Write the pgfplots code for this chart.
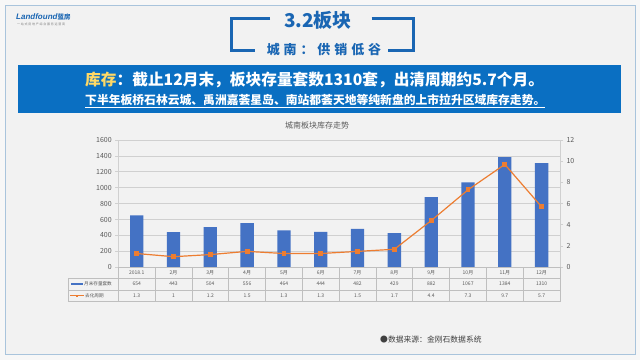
\documentclass[border=0pt]{standalone}
\usepackage{pgfplots}
\pgfplotsset{compat=1.18}
\usepackage{fontspec}
\setmainfont{Noto Sans CJK SC}
\newfontfamily\logofont{Liberation Sans}
\definecolor{bgc}{HTML}{F2F2F2}
\definecolor{outc}{HTML}{F7F7F7}
\definecolor{framec}{HTML}{A9C4DC}
\definecolor{titleblue}{HTML}{1A66B3}
\definecolor{bannerblue}{HTML}{0A6FC2}
\definecolor{hl}{HTML}{FFD966}
\definecolor{barblue}{HTML}{4472C4}
\definecolor{lineor}{HTML}{ED7D31}
\definecolor{labgray}{HTML}{595959}
\definecolor{gridc}{HTML}{D0D0D0}
\definecolor{tabc}{HTML}{BFBFBF}
\pgfplotsset{
  common/.style={
    at={(118.3pt,92.7pt)}, anchor=south west, scale only axis,
    width=441.7pt, height=127.3pt, xmin=-0.5, xmax=11.5, xtick=\empty,
    axis x line=none,
    axis line style={gridc, line width=0.8pt},
    tick align=outside, major tick length=3pt, tick style={gridc, line width=0.8pt},
    yticklabel style={font=\fontsize{7}{7}\selectfont, text=labgray},
    /pgf/number format/assume math mode=true, /pgf/number format/1000 sep={},
  }
}
\begin{document}
\begin{tikzpicture}[x=1pt,y=1pt]
\useasboundingbox (0,0) rectangle (640,360);
\fill[outc] (0,0) rectangle (640,360);
\fill[bgc] (5,6) rectangle (635,355);
\draw[framec, line width=1pt] (5,6) rectangle (635,355);
% logo
\node[anchor=west, inner sep=0, text=titleblue, font=\logofont\fontsize{8}{8}\selectfont\bfseries\itshape] at (16,343) {Landfound\normalfont\fontsize{6.5}{7}\selectfont\bfseries 蓝房};
\node[anchor=west, inner sep=0, text=gray, font=\fontsize{3}{3}\selectfont\addfontfeatures{LetterSpace=25}] at (17,335.5) {一站式房地产综合服务运营商};
% title
\node[font=\fontsize{19}{19}\selectfont\bfseries, text=titleblue] at (318,340) {3.2板块};
\draw[titleblue, line width=3pt] (270,341.7) -- (231.7,341.7) -- (231.7,310) -- (255,310);
\draw[titleblue, line width=3pt] (371.7,341.7) -- (413.3,341.7) -- (413.3,310) -- (388,310);
\node[font=\fontsize{13}{13}\selectfont\bfseries\addfontfeatures{LetterSpace=30}, text=titleblue] at (324,310) {城南：供销低谷};
% banner
\fill[bannerblue] (18.3,295) rectangle (621,246.7);
\node[anchor=west, inner sep=0, text=white, font=\fontsize{15.7}{16}\selectfont\bfseries] at (85,280) {\textcolor{hl}{库存}：截止12月末，板块存量套数1310套，出清周期约5.7个月。};
\node[anchor=west, inner sep=0, text=white, font=\fontsize{11.8}{12}\selectfont\bfseries] at (85,259) {\underline{下半年板桥石林云城、禹洲嘉荟星岛、南站都荟天地等纯新盘的上市拉升区域库存走势。}};
% chart title
\node[font=\fontsize{8}{8}\selectfont, text=labgray] at (317,235) {城南板块库存走势};
% bars
\begin{axis}[common, ymin=0, ymax=1600, ytick={0,200,...,1600},
  axis y line*=left, ymajorgrids, grid style={gridc, line width=0.8pt},
  ybar, bar width=13.3pt]
\addplot[fill=barblue, draw=none] coordinates {
(0,654) (1,443) (2,504) (3,556) (4,464) (5,444) (6,482) (7,429) (8,882) (9,1067) (10,1384) (11,1310)};
\end{axis}
% line
\begin{axis}[common, ymin=0, ymax=12, ytick={0,2,...,12}, axis y line*=right]
\addplot[lineor, line width=1.2pt, mark=square*, mark size=1.8pt, mark options={fill=lineor, draw=lineor}] coordinates {
(0,1.3) (1,1) (2,1.2) (3,1.5) (4,1.3) (5,1.3) (6,1.5) (7,1.7) (8,4.4) (9,7.3) (10,9.7) (11,5.7)};
\end{axis}
% data table
\foreach \i in {0,...,12} {\draw[tabc, line width=0.6pt] ({118.3+36.808*\i},92.7) -- ({118.3+36.808*\i},58.3);}
\draw[tabc, line width=0.6pt] (118.3,92.7) -- (560,92.7);
\draw[tabc, line width=0.6pt] (68.3,81.7) -- (560,81.7);
\draw[tabc, line width=0.6pt] (68.3,70) -- (560,70);
\draw[tabc, line width=0.6pt] (68.3,58.3) -- (560,58.3);
\draw[tabc, line width=0.6pt] (68.3,81.7) -- (68.3,58.3);
\foreach \lab [count=\i from 0] in {2018.1,2月,3月,4月,5月,6月,7月,8月,9月,10月,11月,12月}
  {\node[font=\fontsize{5}{5}\selectfont, text=labgray] at ({118.3+36.808*(\i+0.5)},87.2) {\lab};}
\foreach \lab [count=\i from 0] in {654,443,504,556,464,444,482,429,882,1067,1384,1310}
  {\node[font=\fontsize{5}{5}\selectfont, text=labgray] at ({118.3+36.808*(\i+0.5)},75.85) {\lab};}
\foreach \lab [count=\i from 0] in {1.3,1,1.2,1.5,1.3,1.3,1.5,1.7,4.4,7.3,9.7,5.7}
  {\node[font=\fontsize{5}{5}\selectfont, text=labgray] at ({118.3+36.808*(\i+0.5)},64.15) {\lab};}
\fill[barblue] (71,74.6) rectangle (82.5,77.1);
\node[anchor=west, inner sep=0, font=\fontsize{4.6}{5}\selectfont, text=labgray] at (84,75.85) {月末存量套数};
\draw[lineor, line width=0.8pt] (70,64.15) -- (84,64.15);
\fill[lineor] (75.7,62.9) rectangle (78.3,65.4);
\node[anchor=west, inner sep=0, font=\fontsize{4.6}{5}\selectfont, text=labgray] at (85,64.15) {去化周期};
% source
\node[anchor=west, inner sep=0, font=\fontsize{7.8}{8}\selectfont, text=black!75] at (380,20) {●数据来源：金刚石数据系统};
\end{tikzpicture}
\end{document}
